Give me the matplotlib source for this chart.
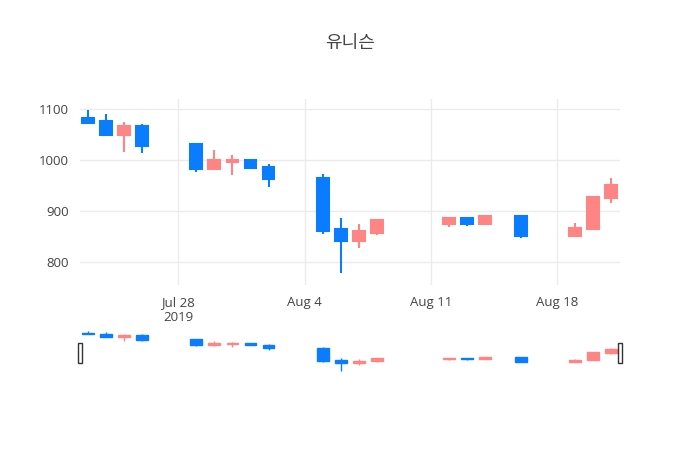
import numpy as np
import pandas as pd
import matplotlib.pyplot as plt
import matplotlib.dates as mdates
from matplotlib.patches import Rectangle

plt.rcParams['font.family'] = ['Open Sans', 'Noto Sans CJK KR', 'DejaVu Sans']

dates = ['2019-07-23', '2019-07-24', '2019-07-25', '2019-07-26',
         '2019-07-29', '2019-07-30', '2019-07-31', '2019-08-01', '2019-08-02',
         '2019-08-05', '2019-08-06', '2019-08-07', '2019-08-08',
         '2019-08-12', '2019-08-13', '2019-08-14', '2019-08-16',
         '2019-08-19', '2019-08-20', '2019-08-21']
opens  = [1082, 1076, 1049, 1067, 1032, 982, 997, 1000, 986, 965, 865, 841, 857, 875, 886, 874, 890, 852, 864, 925]
highs  = [1099, 1090, 1074, 1070, 1033, 1020, 1010, 1000, 993, 973, 886, 875, 882, 886, 886, 890, 890, 877, 927, 964]
lows   = [1073, 1049, 1016, 1015, 977, 981, 971, 983, 948, 855, 778, 827, 853, 869, 871, 874, 848, 852, 864, 915]
closes = [1073, 1049, 1067, 1028, 982, 1000, 1001, 984, 963, 861, 841, 861, 882, 886, 875, 890, 852, 866, 927, 952]

UP = '#ff8585'
DOWN = '#0a7cff'
x = mdates.date2num(pd.to_datetime(dates))

fig = plt.figure(figsize=(7, 4.5), dpi=100)
ax = fig.add_axes([80/700, 1-285/450, 540/700, 186/450])
sl = fig.add_axes([80/700, 1-372/450, 540/700, 42/450])

def candles(a, lw):
    for xi, o, h, l, c in zip(x, opens, highs, lows, closes):
        col = UP if c >= o else DOWN
        a.vlines(xi, l, h, color=col, linewidth=lw, zorder=2)
        a.add_patch(Rectangle((xi - 0.33, min(o, c)), 0.66, max(abs(c - o), 1.5),
                              facecolor=col, edgecolor=col, linewidth=lw, zorder=3))

candles(ax, 1.5)
candles(sl, 1.0)

xmin = mdates.date2num(pd.Timestamp('2019-07-22 13:00'))
xmax = mdates.date2num(pd.Timestamp('2019-08-21 12:00'))
for a in (ax, sl):
    a.set_xlim(xmin, xmax)
    for s in a.spines.values():
        s.set_visible(False)

ax.set_ylim(755, 1120)
ax.set_yticks([800, 900, 1000, 1100])
ax.grid(True, color='#ebebeb', linewidth=1, zorder=0)
ax.set_axisbelow(True)
ticks = pd.to_datetime(['2019-07-28', '2019-08-04', '2019-08-11', '2019-08-18'])
ax.set_xticks(mdates.date2num(ticks))
ax.set_xticklabels(['Jul 28\n2019', 'Aug 4', 'Aug 11', 'Aug 18'])
ax.tick_params(length=0, labelsize=9.5, colors='#444444', pad=8)

sl.set_ylim(min(lows) - 5, max(highs) + 5)
sl.set_xticks([])
sl.set_yticks([])
for xe in (xmin, xmax):
    sl.add_patch(Rectangle((xe - 0.12, 760 + 0.25 * (1104 - 760)), 0.24, 0.45 * (1104 - 760),
                           facecolor='white', edgecolor='#333333', linewidth=1,
                           clip_on=False, zorder=5))

fig.text(0.5, 1 - 43/450, '유니슨', ha='center', va='center', fontsize=13,
         color='#444444', family=['Noto Sans CJK KR', 'DejaVu Sans'])
fig.savefig('out.png')
